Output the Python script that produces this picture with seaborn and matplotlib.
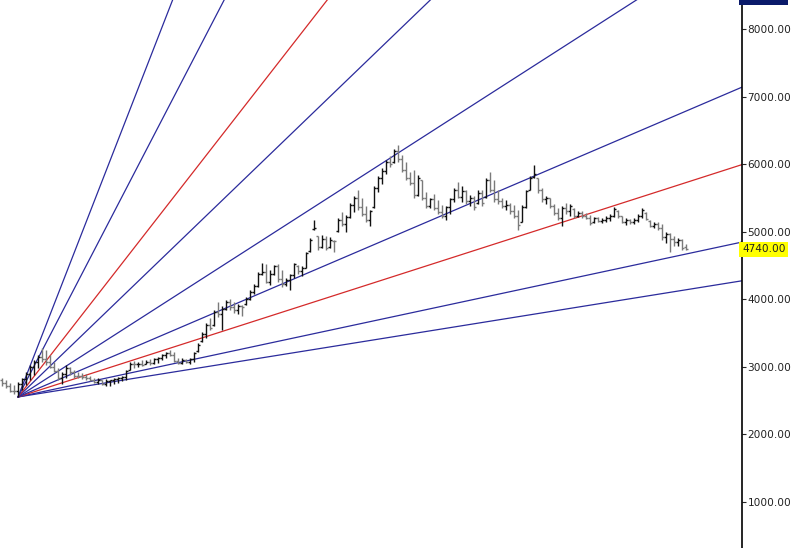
import numpy as np
import pandas as pd
import matplotlib
matplotlib.use("Agg")
import matplotlib.pyplot as plt
import seaborn as sns

# OHLC bars (daily)
highs = [2840, 2810, 2760, 2730, 2780, 2840, 2920, 3030, 3100, 3180,
         3280, 3250, 3180, 3070, 2980, 2920, 3030, 3000, 2950, 2920,
         2910, 2900, 2870, 2840, 2840, 2810, 2820, 2810, 2840, 2850,
         2870, 2950, 3070, 3090, 3070, 3100, 3100, 3120, 3130, 3150,
         3190, 3220, 3250, 3220, 3130, 3130, 3120, 3130, 3220, 3350,
         3520, 3650, 3720, 3840, 3960, 3900, 3990, 4010, 3960, 3930,
         3920, 4030, 4140, 4230, 4400, 4540, 4520, 4430, 4510, 4520,
         4430, 4320, 4380, 4540, 4510, 4490, 4700, 4910, 5170, 4940,
         4950, 4940, 4920, 4880, 5200, 5290, 5250, 5430, 5530, 5620,
         5500, 5380, 5320, 5680, 5830, 5940, 6060, 6120, 6230, 6280,
         6140, 6030, 5880, 5910, 5840, 5770, 5590, 5500, 5560, 5470,
         5400, 5380, 5500, 5650, 5740, 5680, 5620, 5540, 5530, 5620,
         5620, 5800, 5880, 5770, 5620, 5500, 5470, 5430, 5400, 5320,
         5400, 5620, 5830, 5990, 5800, 5650, 5530, 5500, 5410, 5350,
         5380, 5430, 5410, 5350, 5310, 5310, 5280, 5250, 5220, 5220,
         5200, 5230, 5260, 5370, 5320, 5230, 5200, 5190, 5200, 5260,
         5350, 5290, 5170, 5140, 5140, 5120, 5000, 4980, 4940, 4910,
         4890, 4820]
lows = [2720, 2690, 2630, 2600, 2555, 2660, 2730, 2810, 2880, 2980,
        3070, 3030, 2980, 2920, 2810, 2750, 2840, 2880, 2840, 2840,
        2820, 2810, 2790, 2760, 2750, 2730, 2720, 2720, 2750, 2760,
        2790, 2810, 2950, 2980, 3000, 3010, 3040, 3030, 3040, 3060,
        3100, 3130, 3160, 3070, 3040, 3040, 3060, 3040, 3070, 3220,
        3370, 3430, 3550, 3610, 3740, 3550, 3840, 3840, 3800, 3780,
        3750, 3920, 3990, 4080, 4180, 4360, 4240, 4210, 4360, 4260,
        4180, 4200, 4140, 4320, 4380, 4350, 4460, 4700, 5030, 4730,
        4760, 4730, 4760, 4700, 5000, 5090, 5000, 5200, 5290, 5320,
        5230, 5140, 5090, 5350, 5590, 5710, 5860, 5960, 6020, 6030,
        5880, 5770, 5690, 5500, 5530, 5470, 5350, 5350, 5320, 5260,
        5200, 5170, 5260, 5440, 5500, 5440, 5410, 5380, 5320, 5410,
        5380, 5500, 5590, 5440, 5410, 5350, 5320, 5260, 5200, 5030,
        5140, 5350, 5620, 5800, 5570, 5440, 5410, 5350, 5250, 5170,
        5090, 5260, 5230, 5200, 5220, 5200, 5190, 5100, 5130, 5140,
        5130, 5140, 5160, 5220, 5200, 5130, 5100, 5120, 5120, 5140,
        5200, 5170, 5070, 5060, 5030, 4880, 4830, 4700, 4790, 4790,
        4730, 4730]
opens = [2800, 2760, 2720, 2650, 2640, 2740, 2820, 2900, 3000, 3080,
         3150, 3120, 3080, 3000, 2940, 2840, 2900, 2990, 2920, 2870,
         2860, 2850, 2830, 2810, 2780, 2800, 2750, 2790, 2800, 2820,
         2840, 2850, 2960, 3050, 3040, 3050, 3050, 3080, 3060, 3110,
         3130, 3170, 3200, 3180, 3090, 3060, 3100, 3080, 3110, 3230,
         3380, 3480, 3620, 3620, 3820, 3780, 3860, 3960, 3880, 3840,
         3900, 3930, 4010, 4110, 4200, 4380, 4400, 4260, 4380, 4490,
         4300, 4220, 4290, 4360, 4500, 4420, 4470, 4710, 5040, 4930,
         4780, 4900, 4770, 4870, 5010, 5170, 5120, 5220, 5400, 5500,
         5360, 5260, 5170, 5360, 5650, 5800, 5900, 6030, 6030, 6200,
         6080, 5920, 5800, 5720, 5540, 5760, 5500, 5380, 5480, 5350,
         5290, 5230, 5360, 5480, 5620, 5520, 5600, 5450, 5500, 5420,
         5580, 5520, 5760, 5620, 5480, 5450, 5380, 5400, 5300, 5230,
         5150, 5370, 5620, 5810, 5790, 5620, 5480, 5500, 5380, 5280,
         5200, 5350, 5300, 5340, 5230, 5280, 5230, 5210, 5140, 5200,
         5160, 5180, 5200, 5240, 5310, 5230, 5150, 5180, 5140, 5180,
         5240, 5280, 5160, 5090, 5120, 5050, 4920, 4960, 4900, 4850,
         4880, 4770]
closes = [2760, 2720, 2650, 2640, 2740, 2820, 2900, 3000, 3080, 3150,
          3120, 3080, 3000, 2940, 2840, 2900, 2990, 2920, 2870, 2860,
          2850, 2830, 2810, 2780, 2800, 2750, 2790, 2800, 2820, 2840,
          2850, 2940, 3050, 3040, 3050, 3030, 3080, 3060, 3110, 3130,
          3170, 3200, 3180, 3090, 3060, 3100, 3080, 3110, 3200, 3330,
          3480, 3620, 3580, 3820, 3780, 3860, 3960, 3880, 3840, 3900,
          3890, 4010, 4110, 4200, 4380, 4400, 4260, 4380, 4490, 4300,
          4220, 4290, 4360, 4520, 4420, 4460, 4680, 4880, 5060, 4780,
          4900, 4760, 4880, 4860, 5170, 5120, 5220, 5400, 5500, 5360,
          5260, 5170, 5300, 5650, 5800, 5900, 6030, 6000, 6200, 6080,
          5920, 5800, 5720, 5540, 5800, 5500, 5380, 5480, 5350, 5290,
          5230, 5360, 5480, 5620, 5520, 5600, 5450, 5500, 5360, 5580,
          5420, 5760, 5620, 5480, 5450, 5380, 5400, 5300, 5230, 5100,
          5370, 5600, 5800, 5850, 5620, 5480, 5500, 5380, 5280, 5200,
          5350, 5300, 5380, 5230, 5280, 5230, 5210, 5130, 5200, 5160,
          5180, 5200, 5240, 5340, 5230, 5150, 5180, 5140, 5180, 5240,
          5320, 5190, 5090, 5120, 5050, 4920, 4960, 4900, 4850, 4880,
          4760, 4740]

# Gann fan: anchored on the swing low, 1x1 = 38 points per bar
fan_origin_bar = 4
fan_origin_price = 2555
fan_unit = 38
fan_ratios = [1/4, 1/3, 1/2, 2/3, 1, 3/2, 2, 3, 4]
fan_colors = ["#2b2b9c", "#2b2b9c", "#d42a2a", "#2b2b9c", "#2b2b9c",
              "#2b2b9c", "#d42a2a", "#2b2b9c", "#2b2b9c"]

y_ticks = [1000, 2000, 3000, 4000, 5000, 6000, 7000, 8000]
last_price = 4740
top_price = 8470

sns.set_style("white")
plt.rcParams['font.family'] = ['DejaVu Sans']

bars = pd.DataFrame({"open": opens, "high": highs, "low": lows, "close": closes})
bars["bar"] = np.arange(len(bars))

fig = plt.figure(figsize=(8, 5.48), dpi=100)
ax = fig.add_axes([0, 0, 742 / 800, 1])
ax.set_xlim(-0.5, 185)
ax.set_ylim(320, 8430)

# fan lines
x_end = 200
fan_rows = []
for k, r in enumerate(fan_ratios):
    for xb in (fan_origin_bar, x_end):
        fan_rows.append({"bar": xb,
                         "price": fan_origin_price + r * fan_unit * (xb - fan_origin_bar),
                         "line": str(k)})
fan_df = pd.DataFrame(fan_rows)
sns.lineplot(data=fan_df, x="bar", y="price", hue="line",
             palette=fan_colors, linewidth=0.9, legend=False, ax=ax,
             zorder=1)

# OHLC bars
up = bars["close"] >= bars["open"]
col = np.where(up, "#111111", "#7a7a7a")
ax.vlines(bars["bar"], bars["low"], bars["high"], colors=col, linewidth=1, zorder=3)
ax.hlines(bars["open"], bars["bar"] - 0.55, bars["bar"], colors=col, linewidth=1, zorder=3)
ax.hlines(bars["close"], bars["bar"], bars["bar"] + 0.55, colors=col, linewidth=1, zorder=3)

# right price axis
for s in ["left", "top", "bottom"]:
    ax.spines[s].set_visible(False)
ax.spines["right"].set_color("black")
ax.spines["right"].set_linewidth(1.2)
ax.yaxis.tick_right()
ax.set_yticks(y_ticks)
ax.set_yticklabels([f"{v:.2f}" for v in y_ticks])
ax.tick_params(axis="y", direction="out", length=3, width=0.8, pad=1,
               labelsize=7.6, labelcolor="#222222", right=True)
ax.set_xticks([])
ax.set_xlabel("")
ax.set_ylabel("")

ax.text(1.0, last_price, f"{last_price:.2f}", transform=ax.get_yaxis_transform(),
        ha="left", va="center", fontsize=7.6, color="#222222",
        bbox=dict(boxstyle="square,pad=0.25", fc="#ffff00", ec="none"),
        clip_on=False)
ax.text(1.0, top_price, "8411.88", transform=ax.get_yaxis_transform(),
        ha="left", va="center", fontsize=7.6, color="white",
        bbox=dict(boxstyle="square,pad=0.25", fc="#0a1a6a", ec="none"),
        clip_on=False)

fig.savefig("out.png", dpi=100)
